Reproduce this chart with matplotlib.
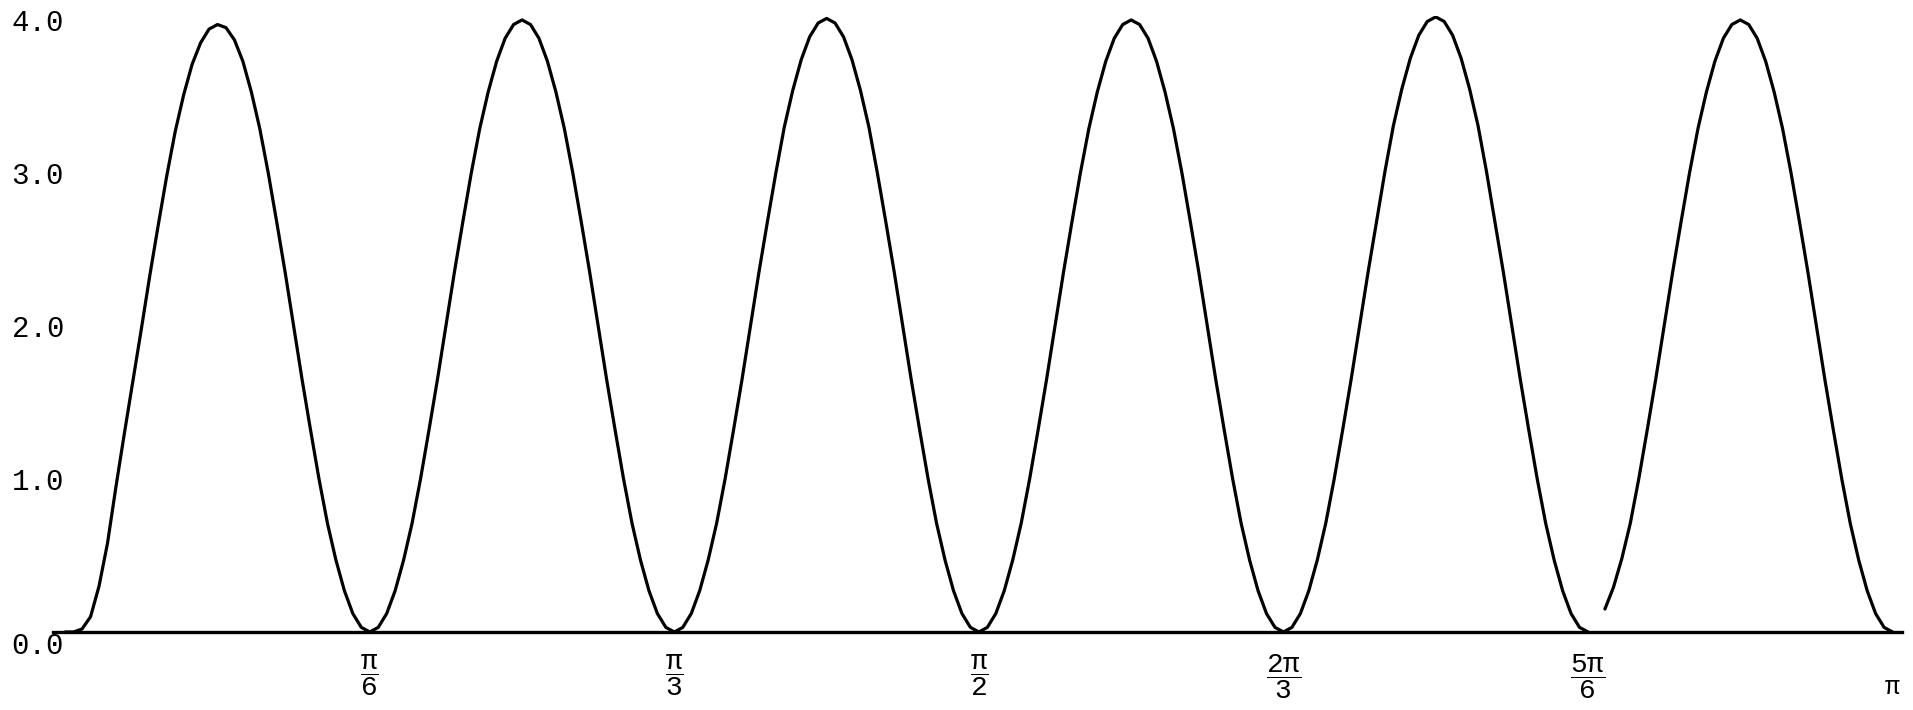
import numpy as np
import matplotlib
matplotlib.use("Agg")
import matplotlib.pyplot as plt

# values, one list per hump
# (y at 37 even steps across each sixth of pi)
hump1 = [0, 0.0, 0.02, 0.1, 0.3, 0.58, 0.95, 1.3, 1.64, 1.98, 2.33, 2.66, 2.98, 3.27, 3.51, 3.71, 3.85, 3.94, 3.97,
         3.95, 3.87, 3.73, 3.53, 3.29, 3.0, 2.68, 2.35, 2.0, 1.65, 1.32, 1.0, 0.71, 0.47, 0.27, 0.12, 0.03, 0]
hump2 = [0, 0.03, 0.12, 0.27, 0.47, 0.71, 1.0, 1.32, 1.65, 2.0, 2.35, 2.68, 3.0, 3.29, 3.53, 3.73, 3.88, 3.97, 4.0,
         3.97, 3.88, 3.73, 3.53, 3.29, 3.0, 2.68, 2.35, 2.0, 1.65, 1.32, 1.0, 0.71, 0.47, 0.27, 0.12, 0.03, 0]
hump3 = [0, 0.03, 0.12, 0.27, 0.47, 0.71, 1.0, 1.32, 1.65, 2.0, 2.35, 2.68, 3.0, 3.3, 3.54, 3.74, 3.89, 3.98, 4.01,
         3.98, 3.89, 3.74, 3.54, 3.3, 3.0, 2.68, 2.35, 2.0, 1.65, 1.32, 1.0, 0.71, 0.47, 0.27, 0.12, 0.03, 0]
hump4 = [0, 0.03, 0.12, 0.27, 0.47, 0.71, 1.0, 1.32, 1.65, 2.0, 2.35, 2.68, 3.0, 3.29, 3.53, 3.73, 3.88, 3.97, 4.0,
         3.97, 3.88, 3.73, 3.53, 3.29, 3.0, 2.68, 2.35, 2.0, 1.65, 1.32, 1.0, 0.71, 0.47, 0.27, 0.12, 0.03, 0]
hump5 = [0, 0.03, 0.12, 0.27, 0.47, 0.71, 1.0, 1.32, 1.65, 2.0, 2.35, 2.68, 3.01, 3.31, 3.55, 3.75, 3.9, 3.99, 4.02,
         3.99, 3.9, 3.75, 3.55, 3.31, 3.01, 2.68, 2.35, 2.0, 1.65, 1.32, 1.0, 0.71, 0.47, 0.27, 0.12, 0.03, 0]
# the pen lifted at 5pi/6, so the last hump starts a little off the axis
hump6 = [np.nan, np.nan, 0.15, 0.29, 0.48, 0.71, 1.0, 1.32, 1.65, 2.0, 2.35, 2.68, 3.0, 3.29, 3.53, 3.73, 3.88, 3.97, 4.0,
         3.97, 3.88, 3.73, 3.53, 3.29, 3.0, 2.68, 2.35, 2.0, 1.65, 1.32, 1.0, 0.71, 0.47, 0.27, 0.12, 0.03, 0]
humps = [hump1, hump2, hump3, hump4, hump5, hump6]

xtick_vals = [1/6, 1/3, 1/2, 2/3, 5/6, 1]  # multiples of pi
xtick_labels = [r"$\dfrac{\pi}{6}$", r"$\dfrac{\pi}{3}$", r"$\dfrac{\pi}{2}$",
                r"$\dfrac{2\pi}{3}$", r"$\dfrac{5\pi}{6}$", "\nπ"]
ytick_vals = [0, 1, 2, 3, 4]
ytick_labels = ["0.0", "1.0", "2.0", "3.0", "4.0"]

plt.rcParams["font.family"] = ["Liberation Mono", "DejaVu Sans"]
plt.rcParams["mathtext.fontset"] = "custom"
plt.rcParams["mathtext.rm"] = "Liberation Mono"
plt.rcParams["mathtext.it"] = "Liberation Mono"
plt.rcParams["mathtext.bf"] = "Liberation Mono:bold"

fig = plt.figure(figsize=(19.13, 7.10), dpi=100)
ax = fig.add_axes([0.0277, 0.1099, 0.9666, 0.8676])

xs, ys = [], []
for k, h in enumerate(humps):
    x = np.linspace(k / 6, (k + 1) / 6, len(h)) * np.pi
    if k > 0:
        x, h = x[1:], h[1:]
    xs.extend(x)
    ys.extend(h)
ax.plot(xs, ys, color="black", lw=2.3, solid_joinstyle="round", solid_capstyle="round")

ax.set_xlim(-0.021, 3.158)
ax.set_ylim(0, 4.026)

for s in ["left", "right", "top"]:
    ax.spines[s].set_visible(False)
ax.spines["bottom"].set_linewidth(2.4)

ax.set_xticks(np.array(xtick_vals) * np.pi)
ax.set_xticklabels(xtick_labels, fontsize=20)
ax.tick_params(axis="x", length=0, pad=15)
ax.get_xticklabels()[-1].set_fontsize(18)
ax.get_xticklabels()[-1].set_linespacing(0.9)

ax.set_yticks(ytick_vals)
ax.set_yticklabels(ytick_labels, fontsize=21)
ax.tick_params(axis="y", length=0, pad=-8)
ax.get_yticklabels()[0].set_va("top")

fig.savefig("out.png", dpi=100, facecolor="white")
